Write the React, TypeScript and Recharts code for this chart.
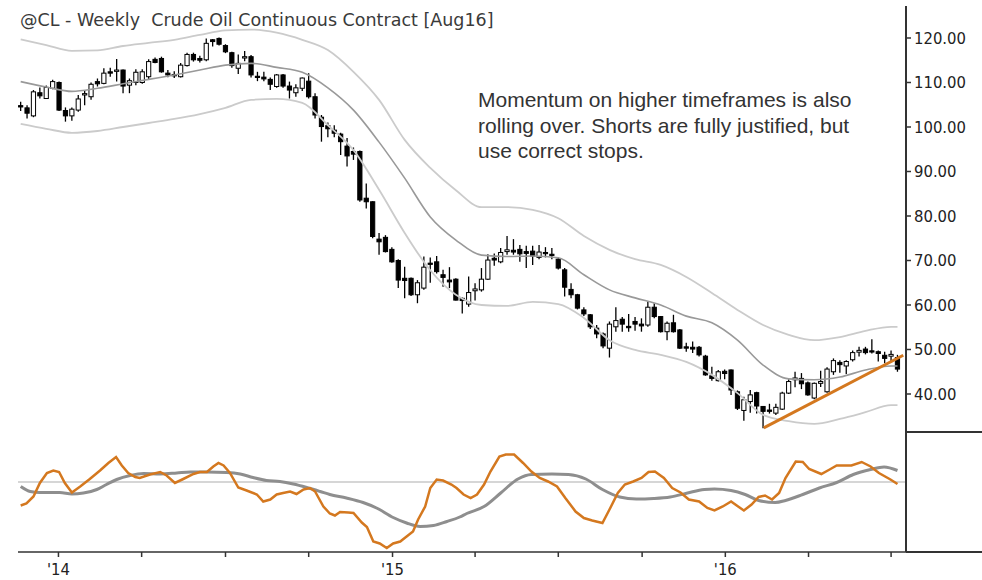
import React from 'react';
import { ComposedChart, Bar, Line, XAxis, YAxis, ReferenceLine } from 'recharts';

// weekly candles, Nov 2013 .. Jul 2016 (index = week number)
const opens = [
  104.8, 104.3, 102.5, 107.7, 106.4, 108.7, 110.0, 103.7, 102.5, 103.8,
  107.2, 106.8, 110.2, 109.8, 112.4, 112.5, 112.8, 109.4, 110.0, 110.0,
  111.3, 115.2, 115.4, 112.1, 111.8, 111.3, 113.8, 116.3, 115.4, 115.1,
  119.6, 119.9, 118.3, 116.7, 113.2, 115.5, 115.8, 111.4, 111.2, 110.7,
  109.1, 111.7, 109.2, 107.7, 108.7, 110.3, 106.8, 102.2, 100.3, 99.3,
  98.4, 95.7, 94.5, 94.5, 84.0, 83.2, 74.8, 75.2, 72.5, 70.0,
  66.0, 66.0, 62.3, 63.8, 69.4, 69.7, 66.8, 65.6, 65.8, 61.5,
  60.2, 63.2, 63.4, 65.8, 70.5, 69.7, 72.0, 72.3, 72.5, 72.0,
  72.1, 70.7, 71.8, 71.4, 70.3, 67.9, 63.5, 62.3, 58.9, 57.8,
  54.8, 53.5, 50.3, 55.1, 56.8, 55.2, 56.3, 55.7, 55.5, 59.5,
  57.4, 54.0, 56.0, 54.4, 50.6, 50.5, 50.5, 48.5, 44.1, 43.0,
  45.1, 45.4, 40.5, 36.3, 38.3, 40.3, 37.2, 36.4, 35.7, 36.6,
  40.2, 43.2, 43.5, 42.5, 39.1, 42.4, 40.5, 45.0, 47.1, 46.3,
  47.7, 49.4, 50.1, 49.7, 49.5, 48.7, 48.5, 48.2,
];
const highs = [
  105.7, 104.9, 108.3, 108.9, 109.3, 110.6, 110.2, 104.4, 104.4, 107.2,
  108.2, 110.0, 110.9, 113.2, 113.3, 115.3, 112.9, 110.9, 113.0, 113.0,
  115.2, 115.6, 115.8, 112.8, 112.5, 114.4, 116.7, 116.7, 116.0, 119.9,
  119.8, 120.1, 118.6, 116.9, 116.3, 117.1, 116.2, 112.4, 112.4, 111.1,
  111.9, 111.9, 110.2, 109.6, 111.1, 112.1, 107.6, 102.7, 101.0, 100.4,
  98.7, 97.5, 95.4, 94.7, 87.3, 83.3, 76.2, 75.7, 73.0, 70.3,
  68.6, 66.2, 65.6, 70.9, 70.7, 71.0, 67.9, 68.5, 66.0, 61.7,
  66.4, 64.9, 68.3, 71.4, 71.6, 72.8, 75.5, 74.8, 73.5, 73.3,
  73.3, 73.5, 73.0, 72.8, 70.7, 68.3, 64.9, 62.5, 59.5, 58.0,
  55.5, 53.8, 56.3, 59.5, 57.3, 58.0, 57.3, 57.0, 60.8, 60.4,
  57.5, 56.3, 57.8, 54.6, 51.5, 51.8, 50.8, 48.8, 46.1, 45.4,
  45.5, 45.5, 40.8, 39.4, 40.9, 40.5, 37.3, 37.8, 37.8, 40.5,
  43.3, 45.0, 44.7, 42.8, 42.6, 45.2, 46.0, 48.0, 47.6, 47.6,
  49.8, 50.6, 50.6, 52.3, 49.8, 49.5, 49.8, 48.8,
];
const lows = [
  103.6, 101.9, 102.2, 106.4, 106.3, 108.5, 103.6, 101.2, 101.4, 103.4,
  104.9, 106.1, 109.1, 109.6, 111.3, 110.2, 107.6, 107.6, 109.4, 109.7,
  110.7, 114.3, 112.2, 111.2, 111.0, 111.1, 113.6, 114.7, 114.5, 114.8,
  118.1, 118.3, 116.6, 113.3, 111.9, 114.8, 111.1, 110.3, 110.3, 108.3,
  108.8, 108.8, 106.4, 106.8, 108.1, 106.4, 101.9, 96.7, 97.7, 97.7,
  93.7, 91.1, 92.6, 83.2, 81.7, 75.0, 71.3, 71.8, 69.5, 63.8,
  61.5, 62.0, 60.4, 63.4, 65.0, 67.1, 64.1, 63.8, 61.0, 58.1,
  59.6, 61.0, 63.0, 65.6, 68.8, 69.4, 71.3, 71.3, 69.7, 68.3,
  69.0, 70.3, 70.7, 70.3, 68.0, 61.9, 61.5, 59.0, 57.5, 54.6,
  52.5, 50.3, 48.2, 54.0, 54.0, 54.0, 54.2, 54.0, 55.1, 57.0,
  53.8, 52.1, 53.8, 50.1, 49.5, 49.2, 48.4, 44.1, 43.0, 42.8,
  43.3, 39.8, 36.4, 34.0, 35.8, 35.6, 32.3, 35.6, 35.3, 36.4,
  40.0, 41.5, 41.1, 39.6, 38.8, 41.6, 40.3, 44.3, 44.8, 44.5,
  47.3, 48.4, 48.9, 49.1, 47.3, 46.9, 47.3, 45.0,
];
const closes = [
  104.5, 103.1, 107.9, 107.0, 108.9, 110.2, 103.8, 102.5, 104.0, 106.3,
  107.5, 109.6, 109.7, 112.1, 112.1, 112.8, 109.2, 110.4, 112.3, 112.4,
  114.7, 114.5, 112.4, 111.7, 111.5, 113.9, 116.3, 115.1, 115.0, 118.8,
  119.2, 118.6, 116.9, 113.8, 114.3, 115.8, 111.7, 111.2, 110.8, 109.6,
  111.7, 109.2, 108.3, 108.8, 111.0, 106.8, 102.7, 100.1, 99.6, 98.6,
  96.7, 93.5, 93.9, 83.6, 83.2, 75.4, 74.2, 72.0, 69.7, 65.6,
  65.5, 62.3, 65.0, 68.5, 69.2, 67.5, 66.2, 65.2, 61.1, 61.0,
  62.8, 63.6, 65.8, 70.1, 70.1, 71.8, 72.4, 71.9, 71.5, 71.6,
  71.0, 71.9, 71.6, 71.3, 68.3, 64.0, 62.3, 59.3, 58.0, 55.1,
  53.5, 50.8, 55.7, 56.5, 55.7, 54.9, 55.7, 55.3, 59.5, 57.4,
  54.0, 55.9, 54.0, 50.3, 50.3, 50.1, 48.8, 44.3, 43.5, 45.0,
  44.6, 40.9, 36.8, 38.7, 39.8, 37.3, 36.1, 36.1, 37.0, 40.2,
  42.8, 43.6, 42.3, 39.8, 42.4, 42.8, 45.6, 47.5, 46.6, 47.3,
  49.3, 49.8, 49.3, 49.5, 49.1, 48.0, 48.9, 45.6,
];

// channel lines, read every 4 weeks
const bandWeeks = [
  0, 4, 8, 12, 16, 20, 24, 28, 32, 36, 40, 44, 48, 52, 56, 60, 64, 68,
  72, 76, 80, 84, 88, 92, 96, 100, 104, 108, 112, 116, 120, 124, 128, 132, 136, 137,
];
const middleBand = [
  110.2, 109.0, 108.0, 108.7, 109.7, 110.7, 111.7, 112.8, 113.9, 114.3, 113.4, 112.3,
  108.8, 103.8, 96.6, 88.5, 79.8, 74.6, 71.2, 70.9, 71.0, 70.6, 66.8, 63.4,
  61.6, 60.0, 57.5, 56.0, 52.1, 46.5, 43.4, 43.2, 43.8, 45.4, 46.3, 46.3,
];
const upperBand = [
  119.7, 118.4, 117.1, 117.2, 118.2, 118.9, 119.6, 120.7, 121.7, 121.9, 121.2, 119.6,
  117.3, 112.4, 106.1, 97.1, 90.8, 85.8, 82.0, 82.0, 81.4, 79.5, 75.5, 72.4,
  70.3, 69.0, 66.3, 62.7, 58.9, 55.5, 53.3, 52.1, 52.8, 54.2, 55.1, 55.1,
];
const lowerBand = [
  100.7, 99.6, 98.7, 99.1, 100.0, 100.9, 101.8, 102.9, 104.3, 106.1, 106.3, 105.4,
  100.4, 94.8, 85.9, 76.2, 67.8, 62.3, 60.0, 59.8, 60.7, 60.2, 57.1, 52.1,
  49.9, 48.8, 47.2, 44.3, 40.2, 35.3, 33.9, 33.3, 34.4, 35.9, 37.5, 37.5,
];

const trendLine = [
  [116.1, 32.4],
  [137.9, 48.7],
];

// momentum oscillator: [week, value]
const fastMomentum = [
  [0, -4.7], [0.9, -4.3], [2.0, -2.9], [3.0, -0.2], [4.1, 1.8], [5.1, 2.3], [6.0, 2.0],
  [6.9, -0.2], [8.0, -2.1], [9.3, -0.9], [10.8, 0.6], [12.4, 2.3], [13.7, 3.8], [14.9, 5.0],
  [15.8, 3.3], [16.8, 1.8], [17.9, 1.0], [18.6, 0.8], [20.2, 1.5], [21.8, 2.0], [22.8, 1.3],
  [24.1, -0.2], [25.4, 0.6], [27.0, 1.6], [28.0, 2.0], [29.1, 2.0], [30.1, 3.1], [30.9, 3.8],
  [31.7, 3.3], [32.7, 1.8], [34.0, -1.1], [35.3, -1.7], [36.9, -2.5], [37.9, -3.9], [39.0, -3.5],
  [40.0, -2.5], [41.0, -2.2], [42.1, -1.9], [43.1, -2.4], [44.2, -1.5], [45.2, -1.2], [46.0, -1.9],
  [47.3, -4.9], [48.3, -6.3], [49.1, -6.7], [49.9, -6.0], [51.2, -6.1], [52.0, -6.2], [53.3, -8.1],
  [54.1, -9.0], [55.1, -11.9], [56.1, -12.3], [57.2, -13.2], [58.2, -12.3], [59.3, -11.9],
  [60.3, -10.9], [61.3, -9.9], [62.1, -7.5], [63.2, -4.9], [64.0, -1.2], [65.0, 0.5], [66.0, 0.3],
  [67.3, -0.5], [68.1, -1.2], [69.2, -2.5], [70.3, -3.2], [71.3, -2.5], [72.4, -0.5], [73.4, 2.1],
  [74.8, 5.1], [75.8, 5.5], [77.1, 5.5], [78.5, 3.8], [79.8, 2.1], [81.1, 0.8], [82.4, 0.1],
  [83.8, -0.9], [85.1, -3.2], [86.7, -5.9], [88.0, -7.2], [89.3, -7.7], [90.9, -8.2], [92.0, -5.5],
  [93.3, -2.2], [94.4, -0.5], [95.7, 0.1], [97.0, 0.8], [98.1, 2.0], [99.1, 2.1], [100.5, 0.8],
  [101.8, -1.2], [103.1, -2.1], [104.4, -3.5], [106.0, -3.9], [107.3, -5.2], [108.4, -5.7],
  [109.7, -4.9], [111.0, -3.9], [112.1, -4.9], [113.0, -5.7], [114.2, -4.5], [115.3, -3.0],
  [116.3, -2.7], [117.4, -3.5], [118.5, -2.2], [119.5, 0.8], [121.1, 4.1], [122.2, 4.0],
  [123.2, 2.6], [125.1, 1.6], [126.4, 2.5], [127.5, 3.3], [129.8, 3.3], [131.4, 4.0], [132.8, 3.1],
  [134.1, 1.8], [135.9, 0.5], [137.0, -0.4],
];
const slowMomentum = [
  [0, -0.9], [1.5, -1.9], [3.0, -2.1], [6.1, -2.1], [8.0, -2.4], [9.8, -2.2], [11.9, -1.5],
  [13.4, -0.5], [15.0, 0.5], [17.1, 1.3], [19.2, 1.7], [21.8, 1.6], [24.4, 1.8], [26.5, 2.0],
  [29.1, 2.0], [32.2, 1.9], [34.3, 1.6], [36.3, 0.9], [38.4, 0.3], [40.5, 0.1], [42.6, -0.4],
  [44.7, -1.1], [46.8, -1.9], [48.3, -2.5], [50.9, -3.2], [53.5, -4.1], [55.6, -5.2], [58.2, -7.1],
  [60.3, -8.2], [62.4, -8.9], [64.5, -8.7], [66.6, -7.9], [68.6, -7.0], [69.7, -6.3], [72.4, -4.9],
  [75.0, -2.2], [77.7, 0.6], [79.8, 1.5], [83.0, 1.6], [85.6, 1.5], [88.3, 0.6], [90.9, -1.5],
  [93.6, -3.0], [96.2, -3.4], [98.9, -3.3], [101.5, -3.0], [104.2, -2.2], [106.8, -1.5],
  [108.4, -1.4], [111.0, -1.7], [113.2, -2.5], [115.3, -3.7], [117.9, -4.1], [119.5, -3.7],
  [122.2, -2.5], [124.8, -1.2], [127.5, -0.1], [130.1, 1.5], [132.8, 2.5], [134.9, 3.0], [137.0, 2.3],
];

const priceTicks = [40, 50, 60, 70, 80, 90, 100, 110, 120];
const quarterTicks = [5.9, 18.9, 32.0, 45.0, 58.1, 71.0, 84.0, 97.1, 110.1, 123.1, 136.0];
const quarterLabels = ["'14", '', '', '', "'15", '', '', '', "'16", '', ''];

const candles = opens.map((o, i) => ({
  w: i,
  open: o,
  high: highs[i],
  low: lows[i],
  close: closes[i],
  range: [lows[i], highs[i]],
}));
const toSeries = (xs: number[], ys: number[]) => xs.map((w, i) => ({ w, v: ys[i] }));
const pairs = (list: number[][]) => list.map(([w, v]) => ({ w, v }));

const X_DOMAIN: [number, number] = [-0.42, 138.33];
const AXIS_FONT = '"DejaVu Sans Condensed", "DejaVu Sans", sans-serif';
const ORANGE = '#d4781f';

const Candle = (props: any) => {
  const { x, y, width, height, payload } = props;
  if (x == null || !payload) return null;
  const top = Math.min(y, y + height);
  const h = Math.abs(height);
  const { open, high, low, close } = payload;
  const cx = x + width / 2;
  const toY = (v: number) => top + ((high - v) / (high - low)) * h;
  const bodyTop = toY(Math.max(open, close));
  const bodyH = Math.max(toY(Math.min(open, close)) - bodyTop, 1.2);
  const up = close > open;
  return (
    <g>
      <line x1={cx} x2={cx} y1={top} y2={top + h} stroke="#000" strokeWidth={1.3} />
      <rect x={cx - 2.1} y={bodyTop} width={4.2} height={bodyH} fill={up ? '#fff' : '#000'} stroke="#000" strokeWidth={1} />
    </g>
  );
};

export default function App() {
  return (
    <div style={{ position: 'absolute', left: 0, top: 0, width: 982, height: 580, background: '#fff' }}>
      <div style={{ position: 'absolute', left: 0, top: 0 }}>
        <ComposedChart width={982} height={436} data={candles} margin={{ top: 6, right: 0, bottom: 4, left: 18 }}>
          <XAxis dataKey="w" type="number" domain={X_DOMAIN} allowDataOverflow hide />
          <YAxis
            orientation="right"
            width={76}
            type="number"
            domain={[31.46, 127.19]}
            allowDataOverflow
            ticks={priceTicks}
            interval={0}
            tickFormatter={(v: number) => v.toFixed(2)}
            tickSize={5}
            tickMargin={3}
            axisLine={{ stroke: '#333', strokeWidth: 2 }}
            tickLine={{ stroke: '#333', strokeWidth: 1.5 }}
            tick={{ fill: '#222', fontSize: 16.5, fontFamily: AXIS_FONT }}
          />
          <Line data={toSeries(bandWeeks, upperBand)} dataKey="v" type="monotone" stroke="#cbcbcb" strokeWidth={1.8} dot={false} isAnimationActive={false} />
          <Line data={toSeries(bandWeeks, lowerBand)} dataKey="v" type="monotone" stroke="#cbcbcb" strokeWidth={1.8} dot={false} isAnimationActive={false} />
          <Line data={toSeries(bandWeeks, middleBand)} dataKey="v" type="monotone" stroke="#999" strokeWidth={1.6} dot={false} isAnimationActive={false} />
          <Bar dataKey="range" barSize={5} shape={<Candle />} isAnimationActive={false} />
          <Line data={pairs(trendLine)} dataKey="v" type="linear" stroke={ORANGE} strokeWidth={3} dot={false} isAnimationActive={false} />
        </ComposedChart>
      </div>

      <div style={{ position: 'absolute', left: 0, top: 432 }}>
        <ComposedChart width={982} height={148} margin={{ top: 0, right: 0, bottom: 0, left: 18 }}>
          <XAxis
            dataKey="w"
            type="number"
            domain={X_DOMAIN}
            allowDataOverflow
            ticks={quarterTicks}
            interval={0}
            height={28}
            tickSize={5}
            tickMargin={6}
            tickFormatter={(v: number) => quarterLabels[quarterTicks.indexOf(v)] ?? ''}
            axisLine={{ stroke: '#333', strokeWidth: 1.5 }}
            tickLine={{ stroke: '#333', strokeWidth: 1.5 }}
            tick={{ fill: '#222', fontSize: 16.5, fontFamily: AXIS_FONT }}
          />
          <YAxis orientation="right" width={76} type="number" domain={[-14, 10]} allowDataOverflow tick={false} tickLine={false} axisLine={{ stroke: '#333', strokeWidth: 2 }} />
          <ReferenceLine y={0} stroke="#c8c8c8" strokeWidth={1.5} />
          <Line data={pairs(slowMomentum)} dataKey="v" type="monotone" stroke="#8e8e8e" strokeWidth={3} dot={false} isAnimationActive={false} />
          <Line data={pairs(fastMomentum)} dataKey="v" type="linear" stroke={ORANGE} strokeWidth={2.5} dot={false} isAnimationActive={false} />
        </ComposedChart>
      </div>

      {/* pane separator and axis extension right of the price scale */}
      <div style={{ position: 'absolute', left: 906, top: 431, width: 76, height: 1.5, background: '#333' }} />
      <div style={{ position: 'absolute', left: 906, top: 551.3, width: 76, height: 1.5, background: '#333' }} />

      <div
        style={{
          position: 'absolute', left: 20, top: 10, fontFamily: '"DejaVu Sans", sans-serif',
          fontSize: 17.5, lineHeight: '20px', color: '#3a3a3a', whiteSpace: 'pre',
        }}
      >
        {'@CL - Weekly  Crude Oil Continuous Contract [Aug16]'}
      </div>
      <div
        style={{
          position: 'absolute', left: 478, top: 87, fontFamily: '"Liberation Sans", Arial, sans-serif',
          fontSize: 21, lineHeight: '25.5px', color: '#333', whiteSpace: 'nowrap',
        }}
      >
        Momentum on higher timeframes is also
        <br />
        rolling over. Shorts are fully justified, but
        <br />
        use correct stops.
      </div>
    </div>
  );
}
